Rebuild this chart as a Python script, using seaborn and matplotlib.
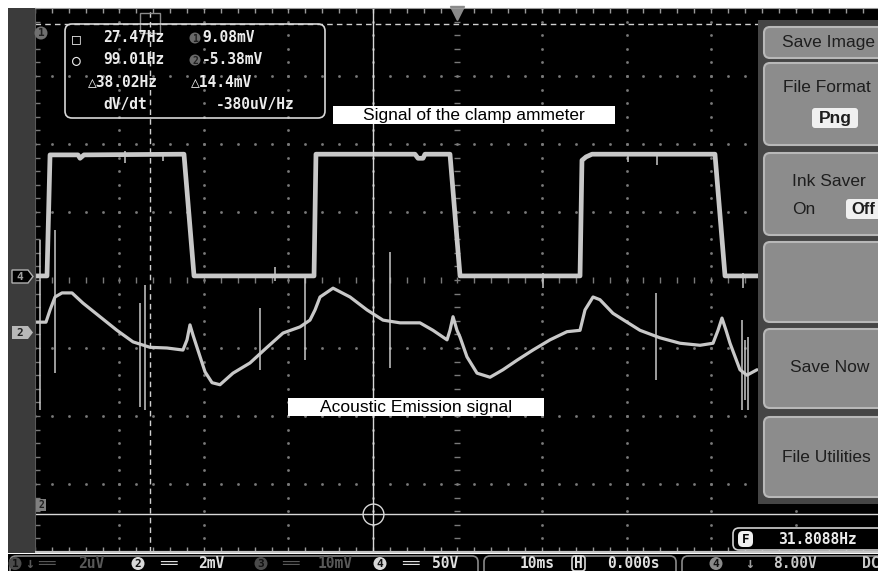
import numpy as np
import matplotlib.pyplot as plt
import seaborn as sns
from matplotlib.patches import FancyBboxPatch, Rectangle, Circle, Polygon

# ----------------------------
# Data: time in ms (10 ms/div, trigger at 0), amplitude in screen divisions
# ----------------------------

clamp_t = [-50.0, -48.58, -48.22, -44.91, -44.67, -44.20, -32.37, -31.18,
           -16.98, -16.75, -5.03, -4.67, -4.08, -3.85, -0.89, 0.30,
           14.50, 14.73, 15.21, 15.92, 30.47, 31.66, 35.80]
clamp_v = [0.06, 0.06, 1.84, 1.84, 1.79, 1.84, 1.85, 0.06,
           0.06, 1.85, 1.85, 1.79, 1.79, 1.85, 1.85, 0.06,
           0.06, 1.76, 1.81, 1.85, 1.85, 0.06, 0.06]

ae_t = [-50.0, -48.70, -48.22, -47.63, -46.80, -45.62, -44.32, -42.31,
        -40.30, -38.40, -36.39, -34.38, -32.49, -32.01, -31.66, -31.30,
        -30.83, -29.88, -29.05, -28.11, -26.57, -24.56, -22.54, -20.65,
        -18.64, -17.46, -16.86, -16.27, -14.73, -12.72, -10.71, -8.82,
        -6.80, -4.44, -2.90, -1.24, -0.89, -0.53, -0.06, 0.30,
        1.12, 2.31, 3.85, 5.38, 7.04, 8.93, 10.95, 12.96,
        14.50, 15.09, 16.04, 16.86, 18.40, 20.06, 21.60, 23.96,
        26.33, 28.70, 30.24, 30.83, 31.30, 31.78, 32.25, 33.43,
        34.26, 35.44]
ae_v = [-0.62, -0.62, -0.44, -0.25, -0.19, -0.19, -0.34, -0.54,
        -0.74, -0.91, -0.99, -1.00, -1.03, -0.88, -0.66, -0.81,
        -0.99, -1.35, -1.51, -1.54, -1.37, -1.22, -0.99, -0.78,
        -0.69, -0.59, -0.44, -0.25, -0.12, -0.25, -0.44, -0.59,
        -0.63, -0.63, -0.74, -0.88, -0.74, -0.54, -0.74, -0.84,
        -1.13, -1.37, -1.43, -1.32, -1.18, -1.03, -0.88, -0.76,
        -0.74, -0.44, -0.25, -0.29, -0.49, -0.62, -0.74, -0.85,
        -0.93, -0.96, -0.93, -0.74, -0.56, -0.74, -0.93, -1.32,
        -1.40, -1.32]

spike_t = [-49.41, -47.63, -37.57, -36.98, -23.37, -18.05, -7.99, 23.49, 33.67, 34.02, 34.38]
spike_lo = [-1.91, -1.37, -1.87, -1.91, -1.32, -1.18, -1.29, -1.47, -1.91, -1.76, -1.91]
spike_hi = [0.59, 0.74, -0.34, -0.07, -0.41, 0.04, 0.41, -0.19, -0.59, -0.88, -0.84]

glitch_t = [-39.35, -34.85, -21.60, 10.12, 20.18, 23.61, 33.79]
glitch_lo = [1.72, 1.75, -0.02, -0.12, 1.74, 1.69, -0.12]
glitch_hi = [1.90, 1.88, 0.19, 0.10, 1.88, 1.88, 0.10]

cursor_t = [-36.39, -10.0]
cursor_v = [3.76, -3.44]

freq_labels = ["27.47Hz", "99.01Hz", "38.02Hz"]
volt_labels = ["9.08mV", "-5.38mV", "14.4mV"]
slope_label = "-380uV/Hz"
counter_label = "31.8088Hz"
menu_labels = ["Save Image", "File Format", "Ink Saver", "", "Save Now", "File Utilities"]

MONO = ["DejaVu Sans Mono", "DejaVu Sans"]
SANS = ["Liberation Sans", "DejaVu Sans"]
TRACE = "#c8c8c8"
GRID = "#7a7a7a"

sns.set_style("dark")
plt.rcParams["font.family"] = SANS

fig = plt.figure(figsize=(8.79, 5.71), dpi=100, facecolor="white")

# ----------------------------
# Scope screen
# ----------------------------

ax = fig.add_axes([35 / 879, 19 / 571, 845 / 879, 544 / 571], zorder=1)
ax.set_facecolor("black")
ax.set_xlim(-50, 50)
ax.set_ylim(-4, 4)
ax.set_xticks([])
ax.set_yticks([])
ax.grid(False)
ax.spines["right"].set_visible(False)
ax.spines["top"].set_color("#9a9a9a")
ax.spines["bottom"].set_color("#c4c4c4")
ax.spines["bottom"].set_linewidth(1.6)
ax.spines["left"].set_color("#5a5a5a")

ys_fine = np.arange(-4, 4.001, 0.2)
xs_fine = np.arange(-50, 50.001, 2)
for gx in [-40, -30, -20, -10, 10, 20, 30, 40]:
    ax.plot(np.full(len(ys_fine), gx), ys_fine, ls="none", marker="s", ms=0.9, color=GRID)
for gy in [-3, -2, -1, 1, 2, 3]:
    ax.plot(xs_fine, np.full(len(xs_fine), gy), ls="none", marker="s", ms=0.9, color=GRID)
ax.plot(np.zeros(len(ys_fine)), ys_fine, ls="none", marker="_", ms=4, mew=1, color=GRID)
ax.plot(xs_fine, np.zeros(len(xs_fine)), ls="none", marker="|", ms=4, mew=1, color=GRID)
ax.vlines(xs_fine, 3.93, 4, color="#9a9a9a", lw=1)
ax.vlines(xs_fine, -4, -3.93, color="#9a9a9a", lw=1)
ax.hlines(ys_fine, -50, -49.4, color="#7a7a7a", lw=1)
ax.plot(0, 3.93, marker="v", ms=10, color="#8a8a8a", clip_on=False)

sns.lineplot(x=clamp_t, y=clamp_v, ax=ax, color=TRACE, lw=3.4,
             estimator=None, sort=False)
sns.lineplot(x=ae_t, y=ae_v, ax=ax, color=TRACE, lw=2.3,
             estimator=None, sort=False)
ax.vlines(spike_t, spike_lo, spike_hi, color=TRACE, lw=1.1)
ax.vlines(glitch_t, glitch_lo, glitch_hi, color=TRACE, lw=1.1)

# cursors
ax.axhline(cursor_v[0], color="#d0d0d0", lw=1, ls=(0, (4, 3)))
ax.axvline(cursor_t[0], color="#d0d0d0", lw=1, ls=(0, (4, 3)))
ax.axvline(cursor_t[1], color="#d8d8d8", lw=1)
ax.axhline(cursor_v[1], color="#d8d8d8", lw=1)
ax.plot(cursor_t[1], cursor_v[1], marker="o", ms=15, mfc="none", mec="#d8d8d8", mew=1)
ax.plot(cursor_t[0], 3.78, marker="s", ms=15, mfc="none", mec="#8a8a8a", mew=1)

# ----------------------------
# Overlay (pixel coordinates)
# ----------------------------

ov = fig.add_axes([0, 0, 1, 1], zorder=5)
ov.set_xlim(0, 879)
ov.set_ylim(571, 0)
ov.axis("off")

ov.add_patch(Rectangle((8, 8), 27, 545, fc="#3b3b3b", ec="none"))


def badge(x, y, d, fc, tc, r=6.5, size=8):
    ov.add_patch(Circle((x, y), r, fc=fc, ec="none"))
    ov.text(x, y + 0.5, d, color=tc, fontsize=size, fontweight="bold",
            ha="center", va="center", family=MONO)


# channel markers
badge(41, 33, "1", "#707070", "#202020")
ov.add_patch(Polygon([(12, 270), (28, 270), (33, 276.5), (28, 283), (12, 283)],
                     closed=True, fc="black", ec="#b0b0b0", lw=1))
ov.text(20, 277, "4", color="#a0a0a0", fontsize=8, fontweight="bold",
        ha="center", va="center", family=MONO)
ov.add_patch(Polygon([(12, 326), (28, 326), (33, 332.5), (28, 339), (12, 339)],
                     closed=True, fc="#b8b8b8", ec="none"))
ov.text(20, 333, "2", color="#202020", fontsize=8, fontweight="bold",
        ha="center", va="center", family=MONO)
ov.add_patch(Rectangle((36, 499), 10, 12, fc="#808080", ec="none"))
ov.text(41, 505.5, "2", color="#202020", fontsize=7, fontweight="bold",
        ha="center", va="center", family=MONO)

# measurement box
ov.add_patch(FancyBboxPatch((65, 24), 260, 94, boxstyle="round,pad=0,rounding_size=7",
                            fc="none", ec="#d8d8d8", lw=1.2))
mkw = dict(color="#ececec", fontsize=10.5, fontweight="bold", va="center", family=MONO)
ov.text(72, 39, "□", **mkw)
ov.text(72, 61, "○", **mkw)
ov.text(103, 38, freq_labels[0], **mkw)
ov.text(103, 60, freq_labels[1], **mkw)
ov.text(88, 82, "△" + freq_labels[2], **mkw)
ov.text(103, 105, "dV/dt", **mkw)
badge(195, 38, "1", "#6a6a6a", "#202020", r=5.5, size=7)
badge(195, 60, "2", "#6a6a6a", "#202020", r=5.5, size=7)
ov.text(202, 38, volt_labels[0], **mkw)
ov.text(202, 60, volt_labels[1], **mkw)
ov.text(191, 82, "△" + volt_labels[2], **mkw)
ov.text(216, 105, slope_label, **mkw)

# annotation labels
ov.add_patch(Rectangle((333, 106), 282, 18, fc="white", ec="none"))
ov.text(474, 115.5, "Signal of the clamp ammeter", color="black", fontsize=12.5,
        ha="center", va="center")
ov.add_patch(Rectangle((288, 398), 256, 18, fc="white", ec="none"))
ov.text(416, 407.5, "Acoustic Emission signal", color="black", fontsize=12.5,
        ha="center", va="center")

# side menu
ov.add_patch(Rectangle((758, 20), 130, 484, fc="#454545", ec="none"))
buttons = [(27, 58), (63, 145), (153, 235), (242, 322), (329, 408), (417, 497)]
for y0, y1 in buttons:
    ov.add_patch(FancyBboxPatch((764, y0), 130, y1 - y0,
                                boxstyle="round,pad=0,rounding_size=6",
                                fc="#8c8c8c", ec="#b8b8b8", lw=1.5))
bkw = dict(color="#1e1e1e", fontsize=12.5, va="center")
ov.text(782, 43, menu_labels[0], **bkw)
ov.text(783, 88, menu_labels[1], **bkw)
ov.text(792, 181, menu_labels[2], **bkw)
ov.text(790, 368, menu_labels[4], **bkw)
ov.text(782, 457, menu_labels[5], **bkw)
ov.add_patch(FancyBboxPatch((812, 108), 46, 20, boxstyle="round,pad=0,rounding_size=3",
                            fc="#f0f0f0", ec="none"))
ov.text(835, 118.5, "Png", ha="center", color="#1e1e1e", fontsize=12.5,
        fontweight="bold", va="center")
ov.text(792, 209, "On", **bkw)
ov.add_patch(FancyBboxPatch((846, 199), 40, 20, boxstyle="round,pad=0,rounding_size=3",
                            fc="#f0f0f0", ec="none"))
ov.text(851, 209.5, "Off", color="#1e1e1e", fontsize=12, fontweight="bold", va="center")

# frequency counter
ov.add_patch(FancyBboxPatch((733, 528), 160, 22, boxstyle="round,pad=0,rounding_size=6",
                            fc="black", ec="#d0d0d0", lw=1.2))
ov.add_patch(FancyBboxPatch((738, 531), 15, 16, boxstyle="round,pad=0,rounding_size=5",
                            fc="#f0f0f0", ec="none"))
ov.text(745.5, 539.5, "F", color="black", fontsize=9, fontweight="bold",
        ha="center", va="center", family=MONO)
ov.text(778, 539.5, counter_label, **mkw)

# status bar
ov.add_patch(Rectangle((8, 554), 871, 17, fc="black", ec="none"))
for x0, x1 in [(10, 478), (484, 676), (682, 895)]:
    ov.add_patch(FancyBboxPatch((x0, 556), x1 - x0, 22,
                                boxstyle="round,pad=0,rounding_size=6",
                                fc="none", ec="#8a8a8a", lw=1.2))
dim = "#585858"
lit = "#e0e0e0"
skw = dict(fontsize=10.5, fontweight="bold", va="center", family=MONO)
sy = 563.5
badge(15, sy, "1", "#4a4a4a", "#111111")
ov.text(25, sy, "↓", color=dim, **skw)
ov.text(38, sy, "══", color=dim, **skw)
ov.text(78, sy, "2uV", color=dim, **skw)
badge(138, sy, "2", "#d8d8d8", "#111111")
ov.text(160, sy, "══", color=lit, **skw)
ov.text(198, sy, "2mV", color=lit, **skw)
badge(261, sy, "3", "#4a4a4a", "#111111")
ov.text(282, sy, "══", color=dim, **skw)
ov.text(318, sy, "10mV", color=dim, **skw)
badge(380, sy, "4", "#d8d8d8", "#111111")
ov.text(402, sy, "══", color=lit, **skw)
ov.text(432, sy, "50V", color=lit, **skw)
ov.text(520, sy, "10ms", color=lit, **skw)
ov.add_patch(FancyBboxPatch((572, 556), 13, 15, boxstyle="round,pad=0,rounding_size=3",
                            fc="black", ec="#d8d8d8", lw=1.2))
ov.text(578.5, sy, "H", color=lit, ha="center", **skw)
ov.text(607, sy, "0.000s", color=lit, **skw)
badge(716, sy, "4", "#8a8a8a", "#111111")
ov.text(745, sy, "↓", color="#a0a0a0", **skw)
ov.text(773, sy, "8.00V", color="#c8c8c8", **skw)
ov.text(862, sy, "DC", color="#c8c8c8", **skw)

fig.savefig("out.png", dpi=100, facecolor="white")
